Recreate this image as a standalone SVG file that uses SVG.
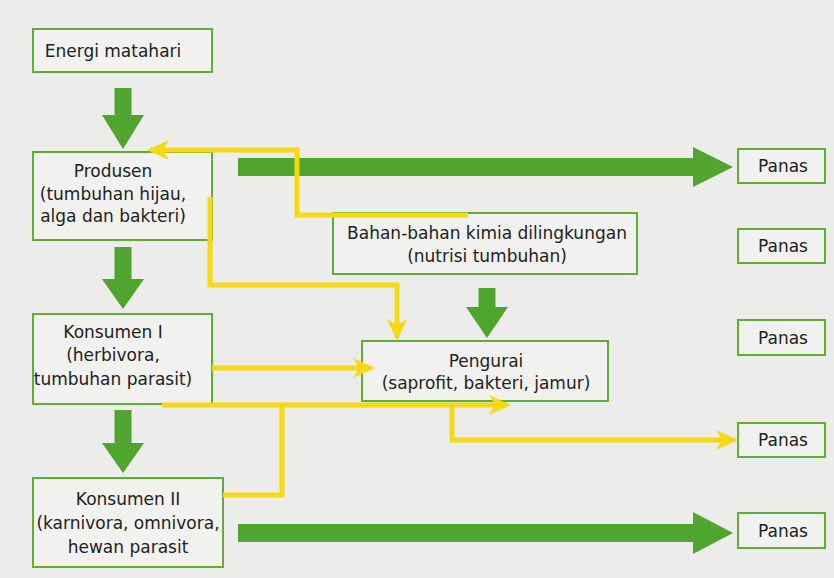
<svg xmlns="http://www.w3.org/2000/svg" width="834" height="578" viewBox="0 0 834 578">
<style>
.box{fill:#f1f1ef;stroke:#5fae35;stroke-width:2}
.t{font-family:"DejaVu Sans",Verdana,sans-serif;font-size:17px;fill:#222;text-anchor:middle}
.g{fill:#4fa52d}
.y{fill:none;stroke:#f5d816;stroke-width:5;stroke-linejoin:miter}
</style>
<defs>
<marker id="ya" markerUnits="userSpaceOnUse" markerWidth="26" markerHeight="24" viewBox="-24 -12 26 24" refX="-4" refY="0" orient="auto">
<path d="M0,0 L-22,-10 L-16,0 L-22,10 Z" fill="#f5d816"/>
</marker>
</defs>
<rect width="834" height="578" fill="#ececea"/>

<g id="energi">
<rect class="box" x="33" y="29" width="179" height="43"/>
<text class="t" x="113" y="57">Energi matahari</text>
</g>
<g id="produsen">
<rect class="box" x="33" y="152" width="179" height="88"/>
<text class="t" x="113" y="177">Produsen</text>
<text class="t" x="113" y="200">(tumbuhan hijau,</text>
<text class="t" x="113" y="222">alga dan bakteri)</text>
</g>
<g id="konsumen1">
<rect class="box" x="33" y="314" width="179" height="90"/>
<text class="t" x="113" y="338">Konsumen I</text>
<text class="t" x="113" y="361">(herbivora,</text>
<text class="t" x="113" y="385">tumbuhan parasit)</text>
</g>
<g id="konsumen2">
<rect class="box" x="33" y="478" width="190" height="89"/>
<text class="t" x="128" y="505">Konsumen II</text>
<text class="t" x="128" y="529">(karnivora, omnivora,</text>
<text class="t" x="128" y="553">hewan parasit</text>
</g>
<g id="bahan">
<rect class="box" x="333" y="213" width="304" height="61"/>
<text class="t" x="487" y="239">Bahan-bahan kimia dilingkungan</text>
<text class="t" x="487" y="262">(nutrisi tumbuhan)</text>
</g>
<g id="pengurai">
<rect class="box" x="362" y="341" width="246" height="60"/>
<text class="t" x="486" y="367">Pengurai</text>
<text class="t" x="486" y="389">(saprofit, bakteri, jamur)</text>
</g>
<g id="panas1"><rect class="box" x="738" y="149" width="87" height="34"/><text class="t" x="783" y="172">Panas</text></g>
<g id="panas2"><rect class="box" x="738" y="229" width="87" height="34"/><text class="t" x="783" y="252">Panas</text></g>
<g id="panas3"><rect class="box" x="738" y="320" width="87" height="35"/><text class="t" x="783" y="344">Panas</text></g>
<g id="panas4"><rect class="box" x="738" y="423" width="87" height="34"/><text class="t" x="783" y="446">Panas</text></g>
<g id="panas5"><rect class="box" x="738" y="513" width="87" height="35"/><text class="t" x="783" y="537">Panas</text></g>

<g id="connectors">
<polygon class="g" points="114.5,88 131.5,88 131.5,115 144,115 123,149 102,115 114.5,115"/>
<polygon class="g" points="114.5,247 131.5,247 131.5,279 144,279 123,309 102,279 114.5,279"/>
<polygon class="g" points="114.5,410 131.5,410 131.5,443 144,443 123,473 102,443 114.5,443"/>
<polygon class="g" points="478.5,288 495.5,288 495.5,307 508,307 487,338 466,307 478.5,307"/>
<polygon class="g" points="238,158 693,158 693,147 733,167 693,187 693,176 238,176"/>
<polygon class="g" points="238,524 693,524 693,512 733,533 693,554 693,542 238,542"/>

<path class="y" d="M468,215 H297 V150 H151" marker-end="url(#ya)"/>
<path class="y" d="M210,197 V285 H397 V337" marker-end="url(#ya)"/>
<path class="y" d="M212,368 H371" marker-end="url(#ya)"/>
<path class="y" d="M162,405 H507" marker-end="url(#ya)"/>
<path class="y" d="M223,495 H282 V405"/>
<path class="y" d="M452,405 V440 H734" marker-end="url(#ya)"/>
</g>
</svg>
